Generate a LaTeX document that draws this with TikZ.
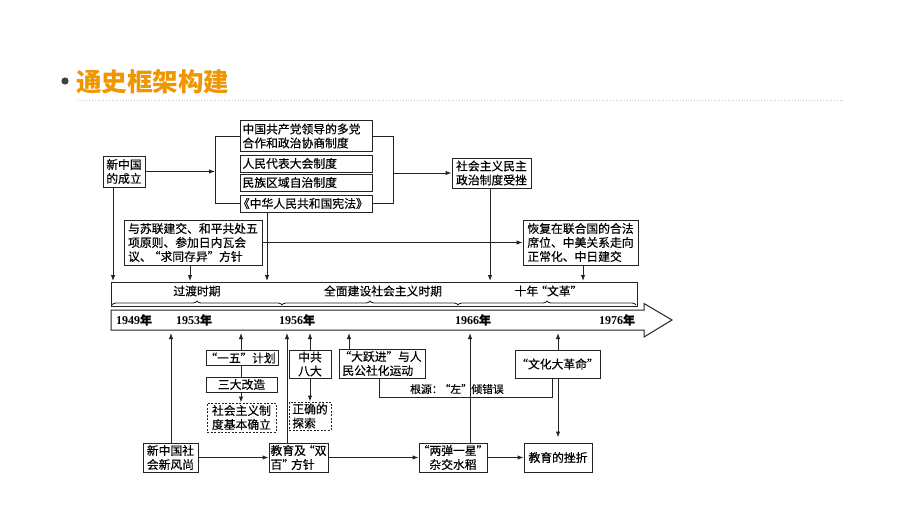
\documentclass[tikz,border=0pt]{standalone}
\usepackage{fontspec}
\setmainfont{Liberation Serif}
\newfontfamily\cjk[FakeBold=0.35]{Noto Sans CJK SC}
\newfontfamily\cjktitle{Noto Sans CJK SC}
\newcommand\zqo{\kern-3pt“}
\newcommand\zqc{”\kern-3pt}
\usetikzlibrary{arrows.meta,decorations.pathreplacing,calc}
\definecolor{titleorange}{RGB}{240,150,0}
\definecolor{linegray}{RGB}{35,35,35}
\definecolor{bulletgray}{RGB}{64,64,64}
\begin{document}
\begin{tikzpicture}[x=1pt,y=-1pt,
  bx/.style={draw=linegray,line width=1pt,inner xsep=1pt,inner ysep=0pt,
    font=\cjk\fontsize{11.8}{14}\selectfont,align=left},
  sz/.style 2 args={minimum width=#1,minimum height=#2},
  dbx/.style={bx,dashed,dash pattern=on 2pt off 1.5pt},
  ln/.style={draw=linegray,line width=1pt},
  arr/.style={ln,-{Latex[length=6pt,width=4.5pt]}},
  brc/.style={draw=linegray,line width=0.9pt,decorate,decoration={brace,amplitude=4pt}},
  lbl/.style={font=\cjk\fontsize{11.8}{14}\selectfont,inner sep=0pt},
  yr/.style={font=\bfseries\fontsize{12}{12}\selectfont,inner sep=0pt}
]
\path[use as bounding box,fill=white] (0,0) rectangle (920,516);

% title
\fill[bulletgray] (65,81) circle (3.6);
\node[anchor=west,inner sep=0pt,text=titleorange,font=\cjktitle\bfseries\fontsize{25.5}{25}\selectfont] (title) at (76,82) {通史框架构建};
\draw[gray!45,dotted,line width=0.8pt] (78,100) -- (845,100);

% top boxes
\node[bx,sz={42}{31}] (xzg) at (124,171.5) {新中国\\的成立};
\node[bx,sz={132}{30},inner xsep=2.5pt,text width=127] (d1) at (306,136) {中国共产党领导的多党\\合作和政治协商制度};
\node[bx,sz={132}{17},inner xsep=2.5pt,text width=127] (d2) at (306,163.5) {人民代表大会制度};
\node[bx,sz={132}{17},inner xsep=2.5pt,text width=127] (d3) at (306,182.5) {民族区域自治制度};
\node[bx,sz={132}{17},inner xsep=0pt,text width=132] (d4) at (306,203.5) {\hspace*{-2pt}《中华人民共和国宪法》};
\node[bx,sz={79}{30}] (sh) at (491.5,173) {社会主义民主\\政治制度受挫};
\node[bx,sz={138}{45}] (ysl) at (193,242.5) {与苏联建交、和平共处五\\项原则、参加日内瓦会\\议、\zqo 求同存异\zqc\ 方针};
\node[bx,sz={115}{45}] (hf) at (580.5,242.5) {恢复在联合国的合法\\席位、中美关系走向\\正常化、中日建交};

% brackets
\coordinate (bl) at (215,171.5);
\coordinate (br) at (393,173);
\draw[ln] (d1.west) -| (bl |- d4.west) -- (d4.west);
\draw[arr] (xzg.east) -- (bl);
\draw[ln] (d1.east) -| (br |- d4.east) -- (d4.east);
\draw[arr] (br) -- (sh.west);
\draw[arr] (ysl.east) -- (hf.west);

% period box
\node[draw=linegray,line width=1pt,minimum width=526,minimum height=24,inner sep=0pt] (period) at (374,294) {};
\draw[brc] (112,305) -- (282,305);
\draw[brc] (282,305) -- (458,305);
\draw[brc] (458,305) -- (636,305);
\node[lbl] (p1t) at (197,291) {过渡时期};
\node[lbl] (p2t) at (383,291) {全面建设社会主义时期};
\node[lbl] (p3t) at (547,291) {十年\zqo 文革\zqc};

% arrows down into period box
\coordinate (q1) at (113,281);
\coordinate (q2) at (190,281);
\coordinate (q3) at (267,281);
\coordinate (q4) at (490,281);
\coordinate (q5) at (583,281);
\draw[arr] (q1 |- xzg.south) -- (q1);
\draw[arr] (q2 |- ysl.south) -- (q2);
\draw[arr] (q3 |- d4.south) -- (q3);
\draw[arr] (q4 |- sh.south) -- (q4);
\draw[arr] (q5 |- hf.south) -- (q5);

% timeline arrow
\draw[ln,fill=white] (111,310) -- (644,310) -- (644,303.5) -- (672,320) -- (644,337) -- (644,330) -- (111,330) -- cycle;
\node[yr] (y1) at (134,320) {1949{\cjk 年}};
\node[yr] (y2) at (194,320) {1953{\cjk 年}};
\node[yr] (y3) at (297,320) {1956{\cjk 年}};
\node[yr] (y4) at (473,320) {1966{\cjk 年}};
\node[yr] (y5) at (617,320) {1976{\cjk 年}};

% lower boxes
\node[bx,sz={72}{15}] (yw) at (242,358) {\zqo 一五\zqc\ 计划};
\node[bx,sz={71}{15}] (sd) at (241.5,384.5) {三大改造};
\node[dbx,sz={69}{29}] (shzy) at (241.5,417.5) {社会主义制\\度基本确立};
\node[bx,sz={42}{28}] (zg) at (310,364) {中共\\八大};
\node[dbx,sz={42}{28}] (zq) at (310,416) {正确的\\探索};
\node[bx,sz={86}{29}] (dyj) at (382,363.5) {\zqo 大跃进\zqc\ 与人\\民公社化运动};
\node[bx,sz={85}{28}] (wh) at (557.5,364) {\zqo 文化大革命\zqc};
\node[bx,sz={55}{29}] (xfs) at (170.5,457.5) {新中国社\\会新风尚};
\node[bx,sz={59}{29}] (jy) at (298.5,457.5) {教育及\zqo 双\\百\zqc 方针};
\node[bx,sz={68}{29},align=center] (ld) at (453,457.5) {\zqo 两弹一星\zqc\\杂交水稻};
\node[bx,sz={68}{29}] (jc) at (558,457.5) {教育的挫折};

% arrows up to timeline
\coordinate (t1) at (171,333);
\coordinate (t2) at (241,333);
\coordinate (t3) at (287,333);
\coordinate (t4) at (310,333);
\coordinate (t5) at (349,333);
\coordinate (t6) at (470,333);
\coordinate (t7) at (558,333);
\draw[arr] (t1 |- xfs.north) -- (t1);
\draw[arr] (t2 |- yw.north) -- (t2);
\draw[arr] (t3 |- jy.north) -- (t3);
\draw[arr] (t4 |- zg.north) -- (t4);
\draw[arr] (t5 |- dyj.north) -- (t5);
\draw[arr] (t6 |- ld.north) -- (t6);
\draw[arr] (t7 |- wh.north) -- (t7);

% chains
\draw[ln] (t2 |- yw.south) -- (t2 |- sd.north);
\draw[arr] (t2 |- sd.south) -- (t2 |- shzy.north);
\draw[arr] (zg.south) -- (zq.north);
\draw[arr] (xfs.east) -- (jy.west);
\draw[arr] (jy.east) -- (ld.west);
\draw[arr] (ld.east) -- (jc.west);
\draw[arr,shorten >=5pt] (wh.south -| jc.north) -- (jc.north);

% root bracket
\coordinate (g1) at (379,397);
\coordinate (g2) at (552,397);
\draw[ln] (g1 |- dyj.south) -- (g1) -- (g2) -- (g2 |- wh.south);
\node[lbl,font=\cjk\fontsize{10.8}{12}\selectfont] (gy) at (457,389) {根源：\zqo 左\zqc\ 倾错误};
\end{tikzpicture}
\end{document}
